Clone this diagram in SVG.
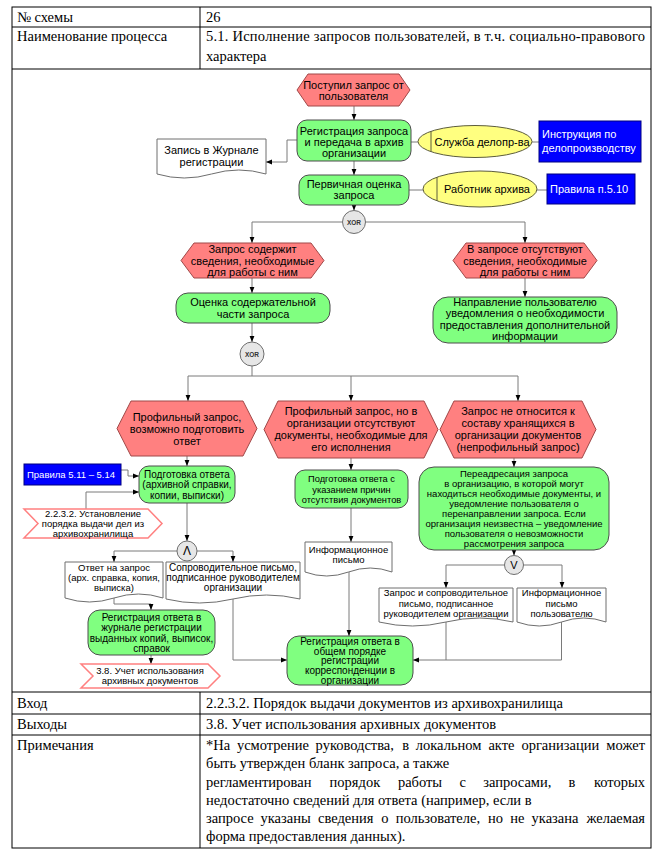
<svg xmlns="http://www.w3.org/2000/svg" width="662" height="862" viewBox="0 0 662 862">
<defs>
<style>
.tb{fill:none;stroke:#000;stroke-width:1}
.tt{font-family:"Liberation Serif","Times New Roman",serif;font-size:14.5px;fill:#000}
.ev{fill:#ff8080;stroke:#a04848;stroke-width:1}
.fn{fill:#80ff80;stroke:#4d4d4d;stroke-width:1}
.el{fill:#ffff80;stroke:#5c5c3d;stroke-width:1}
.bl{fill:#0000ff;stroke:#000080;stroke-width:1}
.dc{fill:#fff;stroke:#6e6e6e;stroke-width:1}
.if{fill:#fff;stroke:#ff8080;stroke-width:1.5}
.gw{fill:#e6e6e6;stroke:#6e6e6e;stroke-width:1}
.ln{fill:none;stroke:#7a7a7a;stroke-width:1}
.ar{marker-end:url(#ah)}
.t{font-family:"Liberation Sans",Arial,sans-serif;font-size:11px;fill:#000;text-anchor:middle}
.s10{font-size:10px}
.s95{font-size:9.5px}
.w{fill:#fff;text-anchor:start}
.gt{font-family:"Liberation Sans",Arial,sans-serif;font-size:6.5px;font-weight:bold;fill:#333;text-anchor:middle}
</style>
<marker id="ah" markerWidth="6" markerHeight="6" refX="6" refY="3" orient="auto" markerUnits="userSpaceOnUse"><path d="M0,0.6 L6,3 L0,5.4 Z" fill="#000"/></marker>
</defs>
<rect x="0" y="0" width="662" height="862" fill="#fff"/>

<g id="table">
<rect class="tb" x="12" y="7" width="639" height="841"/>
<path class="tb" d="M12,27 H651 M12,69 H651 M12,692 H651 M12,714 H651 M12,735 H651 M200,7 V69 M200,692 V848"/>
<g class="tt">
<text x="17" y="22">№ схемы</text>
<text x="206" y="22">26</text>
<text x="17" y="41">Наименование процесса</text>
<text x="206" y="41" textLength="439" lengthAdjust="spacing">5.1. Исполнение запросов пользователей, в т.ч. социально-правового</text>
<text x="206" y="61">характера</text>
<text x="17" y="708">Вход</text>
<text x="206" y="708">2.2.3.2. Порядок выдачи документов из архивохранилища</text>
<text x="17" y="729">Выходы</text>
<text x="206" y="729">3.8. Учет использования архивных документов</text>
<text x="17" y="750">Примечания</text>
<text y="750"><tspan x="206">*На</tspan><tspan x="236.9">усмотрение</tspan><tspan x="315.6">руководства,</tspan><tspan x="402.3">в</tspan><tspan x="415.8">локальном</tspan><tspan x="488.4">акте</tspan><tspan x="521.4">организации</tspan></text>
<text x="645" y="750" text-anchor="end">может</text>
<text x="206" y="768">быть утвержден бланк запроса, а также</text>
<text y="786.5"><tspan x="206">регламентирован</tspan><tspan x="329.6">порядок</tspan><tspan x="397.9">работы</tspan><tspan x="459.5">с</tspan><tspan x="483.2">запросами,</tspan><tspan x="568.4">в</tspan></text>
<text x="645" y="786.5" text-anchor="end">которых</text>
<text x="206" y="804.5">недостаточно сведений для ответа (например, если в</text>
<text y="822.5"><tspan x="206">запросе</tspan><tspan x="260.5">указаны</tspan><tspan x="318">сведения</tspan><tspan x="381.3">о</tspan><tspan x="395.7">пользователе,</tspan><tspan x="488.1">но</tspan><tspan x="510.2">не</tspan><tspan x="531.6">указана</tspan></text>
<text x="645" y="822.5" text-anchor="end">желаемая</text>
<text x="206" y="840.5">форма предоставления данных).</text>
</g>
</g>

<g id="connectors">
<path class="ln ar" d="M354,106 V120"/>
<path class="ln ar" d="M297,140 H287 V162 H266"/>
<path class="ln" d="M411,142 H418"/>
<path class="ln" d="M532,142 H539"/>
<path class="ln ar" d="M354,161 V175"/>
<path class="ln" d="M409,190 H423"/>
<path class="ln" d="M537,190 H547"/>
<path class="ln ar" d="M354,205 V210.5"/>
<path class="ln ar" d="M342.5,222 H252 V243"/>
<path class="ln ar" d="M365.5,222 H525 V243"/>
<path class="ln ar" d="M252,278 V293"/>
<path class="ln ar" d="M525,278 V297"/>
<path class="ln ar" d="M252,323 V342"/>
<path class="ln" d="M252,366 V376 M188,376 H518"/>
<path class="ln ar" d="M188,376 V401"/>
<path class="ln ar" d="M351,376 V401"/>
<path class="ln ar" d="M518,376 V401"/>
<path class="ln ar" d="M187,456 V466"/>
<path class="ln ar" d="M121,470 H128 V476 H139"/>
<path class="ln ar" d="M86,509 V492 H139"/>
<path class="ln ar" d="M187,503 V541"/>
<path class="ln ar" d="M177,551 H114 V562"/>
<path class="ln ar" d="M197,551 H233 V562"/>
<path class="ln ar" d="M114,598 V604 H151 V610"/>
<path class="ln ar" d="M151,655 V664"/>
<path class="ln ar" d="M233,599 V660 H287"/>
<path class="ln ar" d="M351,458 V470"/>
<path class="ln ar" d="M351,508 V542"/>
<path class="ln ar" d="M349,572 V636"/>
<path class="ln ar" d="M514,458 V467"/>
<path class="ln ar" d="M514,550 V555.5"/>
<path class="ln ar" d="M504.5,565 H446 V588"/>
<path class="ln ar" d="M523.5,565 H562 V588"/>
<path class="ln" d="M446,622 V660"/>
<path class="ln ar" d="M561.5,622 V660 H413"/>
</g>

<g id="ev_start">
<polygon class="ev" points="308,74 399,74 410,90 399,106 308,106 297,90"/>
<text class="t"><tspan x="353.5" y="88.5">Поступил запрос от</tspan><tspan x="353.5" y="99.5">пользователя</tspan></text>
</g>
<g id="fn_reg">
<rect class="fn" x="297" y="120" width="114" height="41" rx="10"/>
<text class="t"><tspan x="354" y="134.5">Регистрация запроса</tspan><tspan x="354" y="145.5">и передача в архив</tspan><tspan x="354" y="156.5">организации</tspan></text>
</g>
<g id="org_delo">
<ellipse class="el" cx="475" cy="141.5" rx="57" ry="16"/>
<line class="el" x1="431" y1="131.3" x2="431" y2="151.7"/>
<text class="t" x="482" y="145.5">Служба делопр-ва</text>
</g>
<g id="doc_instr">
<rect class="bl" x="539" y="121" width="102" height="41"/>
<text class="t w"><tspan x="542" y="138">Инструкция по</tspan><tspan x="542" y="151.5">делопроизводству</tspan></text>
</g>
<g id="doc_journal">
<path class="dc" d="M157,139 H266 V174 Q238.75,166 211.5,174 Q184.25,182 157,174 Z"/>
<text class="t"><tspan x="211.5" y="154">Запись в Журнале</tspan><tspan x="211.5" y="166">регистрации</tspan></text>
</g>
<g id="fn_first">
<rect class="fn" x="299" y="175" width="110" height="30" rx="10"/>
<text class="t"><tspan x="354" y="187.5">Первичная оценка</tspan><tspan x="354" y="199">запроса</tspan></text>
</g>
<g id="org_arch">
<ellipse class="el" cx="480" cy="189" rx="57" ry="18"/>
<line class="el" x1="437" y1="177.2" x2="437" y2="200.8"/>
<text class="t" x="487" y="193">Работник архива</text>
</g>
<g id="doc_rules510">
<rect class="bl" x="547" y="174" width="88" height="30"/>
<text class="t w" x="550" y="193">Правила п.5.10</text>
</g>
<g id="xor1">
<circle class="gw" cx="354" cy="222" r="11.5"/>
<text class="gt" x="354" y="224.5">XOR</text>
</g>
<g id="ev_has">
<polygon class="ev" points="194,243 311,243 324,260.5 311,278 194,278 181,260.5"/>
<text class="t"><tspan x="252.5" y="252.5">Запрос содержит</tspan><tspan x="252.5" y="264.5">сведения, необходимые</tspan><tspan x="252.5" y="276">для работы с ним</tspan></text>
</g>
<g id="ev_missing">
<polygon class="ev" points="466,243 584,243 597,260.5 584,278 466,278 453,260.5"/>
<text class="t"><tspan x="525" y="252.5">В запросе отсутствуют</tspan><tspan x="525" y="264.5">сведения, необходимые</tspan><tspan x="525" y="276">для работы с ним</tspan></text>
</g>
<g id="fn_eval">
<rect class="fn" x="176" y="293" width="154" height="30" rx="12"/>
<text class="t"><tspan x="253" y="305.5">Оценка содержательной</tspan><tspan x="253" y="318">части запроса</tspan></text>
</g>
<g id="fn_notify">
<rect class="fn" x="433" y="297" width="184" height="46" rx="15"/>
<text class="t"><tspan x="525" y="305.5">Направление пользователю</tspan><tspan x="525" y="317">уведомления о необходимости</tspan><tspan x="525" y="328.5">предоставления дополнительной</tspan><tspan x="525" y="340">информации</tspan></text>
</g>
<g id="xor2">
<circle class="gw" cx="252" cy="354" r="12"/>
<text class="gt" x="252" y="356.5">XOR</text>
</g>
<g id="ev_prof">
<polygon class="ev" points="131,401 243,401 257,428.5 243,456 131,456 117,428.5"/>
<text class="t"><tspan x="187" y="420.5">Профильный запрос,</tspan><tspan x="187" y="432.5">возможно подготовить</tspan><tspan x="187" y="444.5">ответ</tspan></text>
</g>
<g id="ev_prof_nodocs">
<polygon class="ev" points="278,401 424,401 438,429.5 424,458 278,458 264,429.5"/>
<text class="t"><tspan x="351" y="414.5">Профильный запрос, но в</tspan><tspan x="351" y="426.5">организации отсутствуют</tspan><tspan x="351" y="438.5">документы, необходимые для</tspan><tspan x="351" y="450.5">его исполнения</tspan></text>
</g>
<g id="ev_nonprof">
<polygon class="ev" points="454,401 582,401 596,429.5 582,458 454,458 440,429.5"/>
<text class="t"><tspan x="518" y="414.5">Запрос не относится к</tspan><tspan x="518" y="426.5">составу хранящихся в</tspan><tspan x="518" y="438.5">организации документов</tspan><tspan x="518" y="450.5">(непрофильный запрос)</tspan></text>
</g>
<g id="doc_rules511">
<rect class="bl" x="24" y="464" width="97" height="21"/>
<text class="t w s95" x="27" y="478">Правила 5.11 – 5.14</text>
</g>
<g id="fn_prepare">
<rect class="fn" x="139" y="466" width="96" height="37" rx="10"/>
<text class="t s10"><tspan x="187" y="477.5">Подготовка ответа</tspan><tspan x="187" y="488">(архивной справки,</tspan><tspan x="187" y="498.5">копии, выписки)</tspan></text>
</g>
<g id="if_2232">
<polygon class="if" points="24,509 148,509 162,523.5 148,538 24,538 38,523.5"/>
<text class="t s95"><tspan x="93" y="517">2.2.3.2. Установление</tspan><tspan x="93" y="527">порядка выдачи дел из</tspan><tspan x="93" y="536.5">архивохранилища</tspan></text>
</g>
<g id="and1">
<circle class="gw" cx="187" cy="551" r="10"/>
<text class="t" x="187" y="555" style="font-size:12px">Λ</text>
</g>
<g id="doc_answer">
<path class="dc" d="M65,562 H163 V598 Q138.5,590 114,598 Q89.5,606 65,598 Z"/>
<text class="t s95"><tspan x="114" y="571">Ответ на запрос</tspan><tspan x="114" y="581">(арх. справка, копия,</tspan><tspan x="114" y="591">выписка)</tspan></text>
</g>
<g id="doc_cover">
<path class="dc" d="M166,562 H300 V599 Q266.5,591 233,599 Q199.5,607 166,599 Z"/>
<text class="t s10"><tspan x="233" y="571">Сопроводительное письмо,</tspan><tspan x="233" y="581">подписанное руководителем</tspan><tspan x="233" y="591">организации</tspan></text>
</g>
<g id="fn_prepare_reason">
<rect class="fn" x="295" y="470" width="113" height="38" rx="10"/>
<text class="t" style="font-size:9.3px"><tspan x="351.5" y="482.3">Подготовка ответа с</tspan><tspan x="351.5" y="492.6">указанием причин</tspan><tspan x="351.5" y="503">отсутствия документов</tspan></text>
</g>
<g id="doc_info">
<path class="dc" d="M305,542 H392 V572 Q370.25,564 348.5,572 Q326.75,580 305,572 Z"/>
<text class="t s95"><tspan x="348.5" y="552.5">Информационное</tspan><tspan x="348.5" y="562.5">письмо</tspan></text>
</g>
<g id="fn_redirect">
<rect class="fn" x="419" y="467" width="190" height="83" rx="15"/>
<text class="t s95"><tspan x="514" y="477">Переадресация запроса</tspan><tspan x="514" y="487">в организацию, в которой могут</tspan><tspan x="514" y="497">находиться необходимые документы, и</tspan><tspan x="514" y="507">уведомление пользователя о</tspan><tspan x="514" y="517">перенаправлении запроса. Если</tspan><tspan x="514" y="527">организация неизвестна – уведомление</tspan><tspan x="514" y="537">пользователя о невозможности</tspan><tspan x="514" y="547">рассмотрения запроса</tspan></text>
</g>
<g id="or1">
<circle class="gw" cx="514" cy="565" r="9.5"/>
<text class="t" x="514" y="569">V</text>
</g>
<g id="doc_req_cover">
<path class="dc" d="M379,588 H513 V622 Q479.5,614 446,622 Q412.5,630 379,622 Z"/>
<text class="t s95"><tspan x="446" y="596">Запрос и сопроводительное</tspan><tspan x="446" y="606.5">письмо, подписанное</tspan><tspan x="446" y="617">руководителем организации</tspan></text>
</g>
<g id="doc_info_user">
<path class="dc" d="M517,588 H606 V622 Q583.75,614 561.5,622 Q539.25,630 517,622 Z"/>
<text class="t s95"><tspan x="561.5" y="596">Информационное</tspan><tspan x="561.5" y="606.5">письмо</tspan><tspan x="561.5" y="617">пользователю</tspan></text>
</g>
<g id="fn_reg_journal">
<rect class="fn" x="88" y="610" width="127" height="45" rx="12"/>
<text class="t s10"><tspan x="151.5" y="620.5">Регистрация ответа в</tspan><tspan x="151.5" y="631">журнале регистрации</tspan><tspan x="151.5" y="641.5">выданных копий, выписок,</tspan><tspan x="151.5" y="652">справок</tspan></text>
</g>
<g id="if_38">
<polygon class="if" points="81,664 208,664 220,676 208,688 81,688 93,676"/>
<text class="t s95"><tspan x="150" y="674">3.8. Учет использования</tspan><tspan x="150" y="684">архивных документов</tspan></text>
</g>
<g id="fn_reg_general">
<rect class="fn" x="287" y="636" width="126" height="49" rx="12"/>
<text class="t s10"><tspan x="350" y="645">Регистрация ответа в</tspan><tspan x="350" y="654.7">общем порядке</tspan><tspan x="350" y="664.4">регистрации</tspan><tspan x="350" y="674.1">корреспонденции в</tspan><tspan x="350" y="683.5">организации</tspan></text>
</g>
</svg>
